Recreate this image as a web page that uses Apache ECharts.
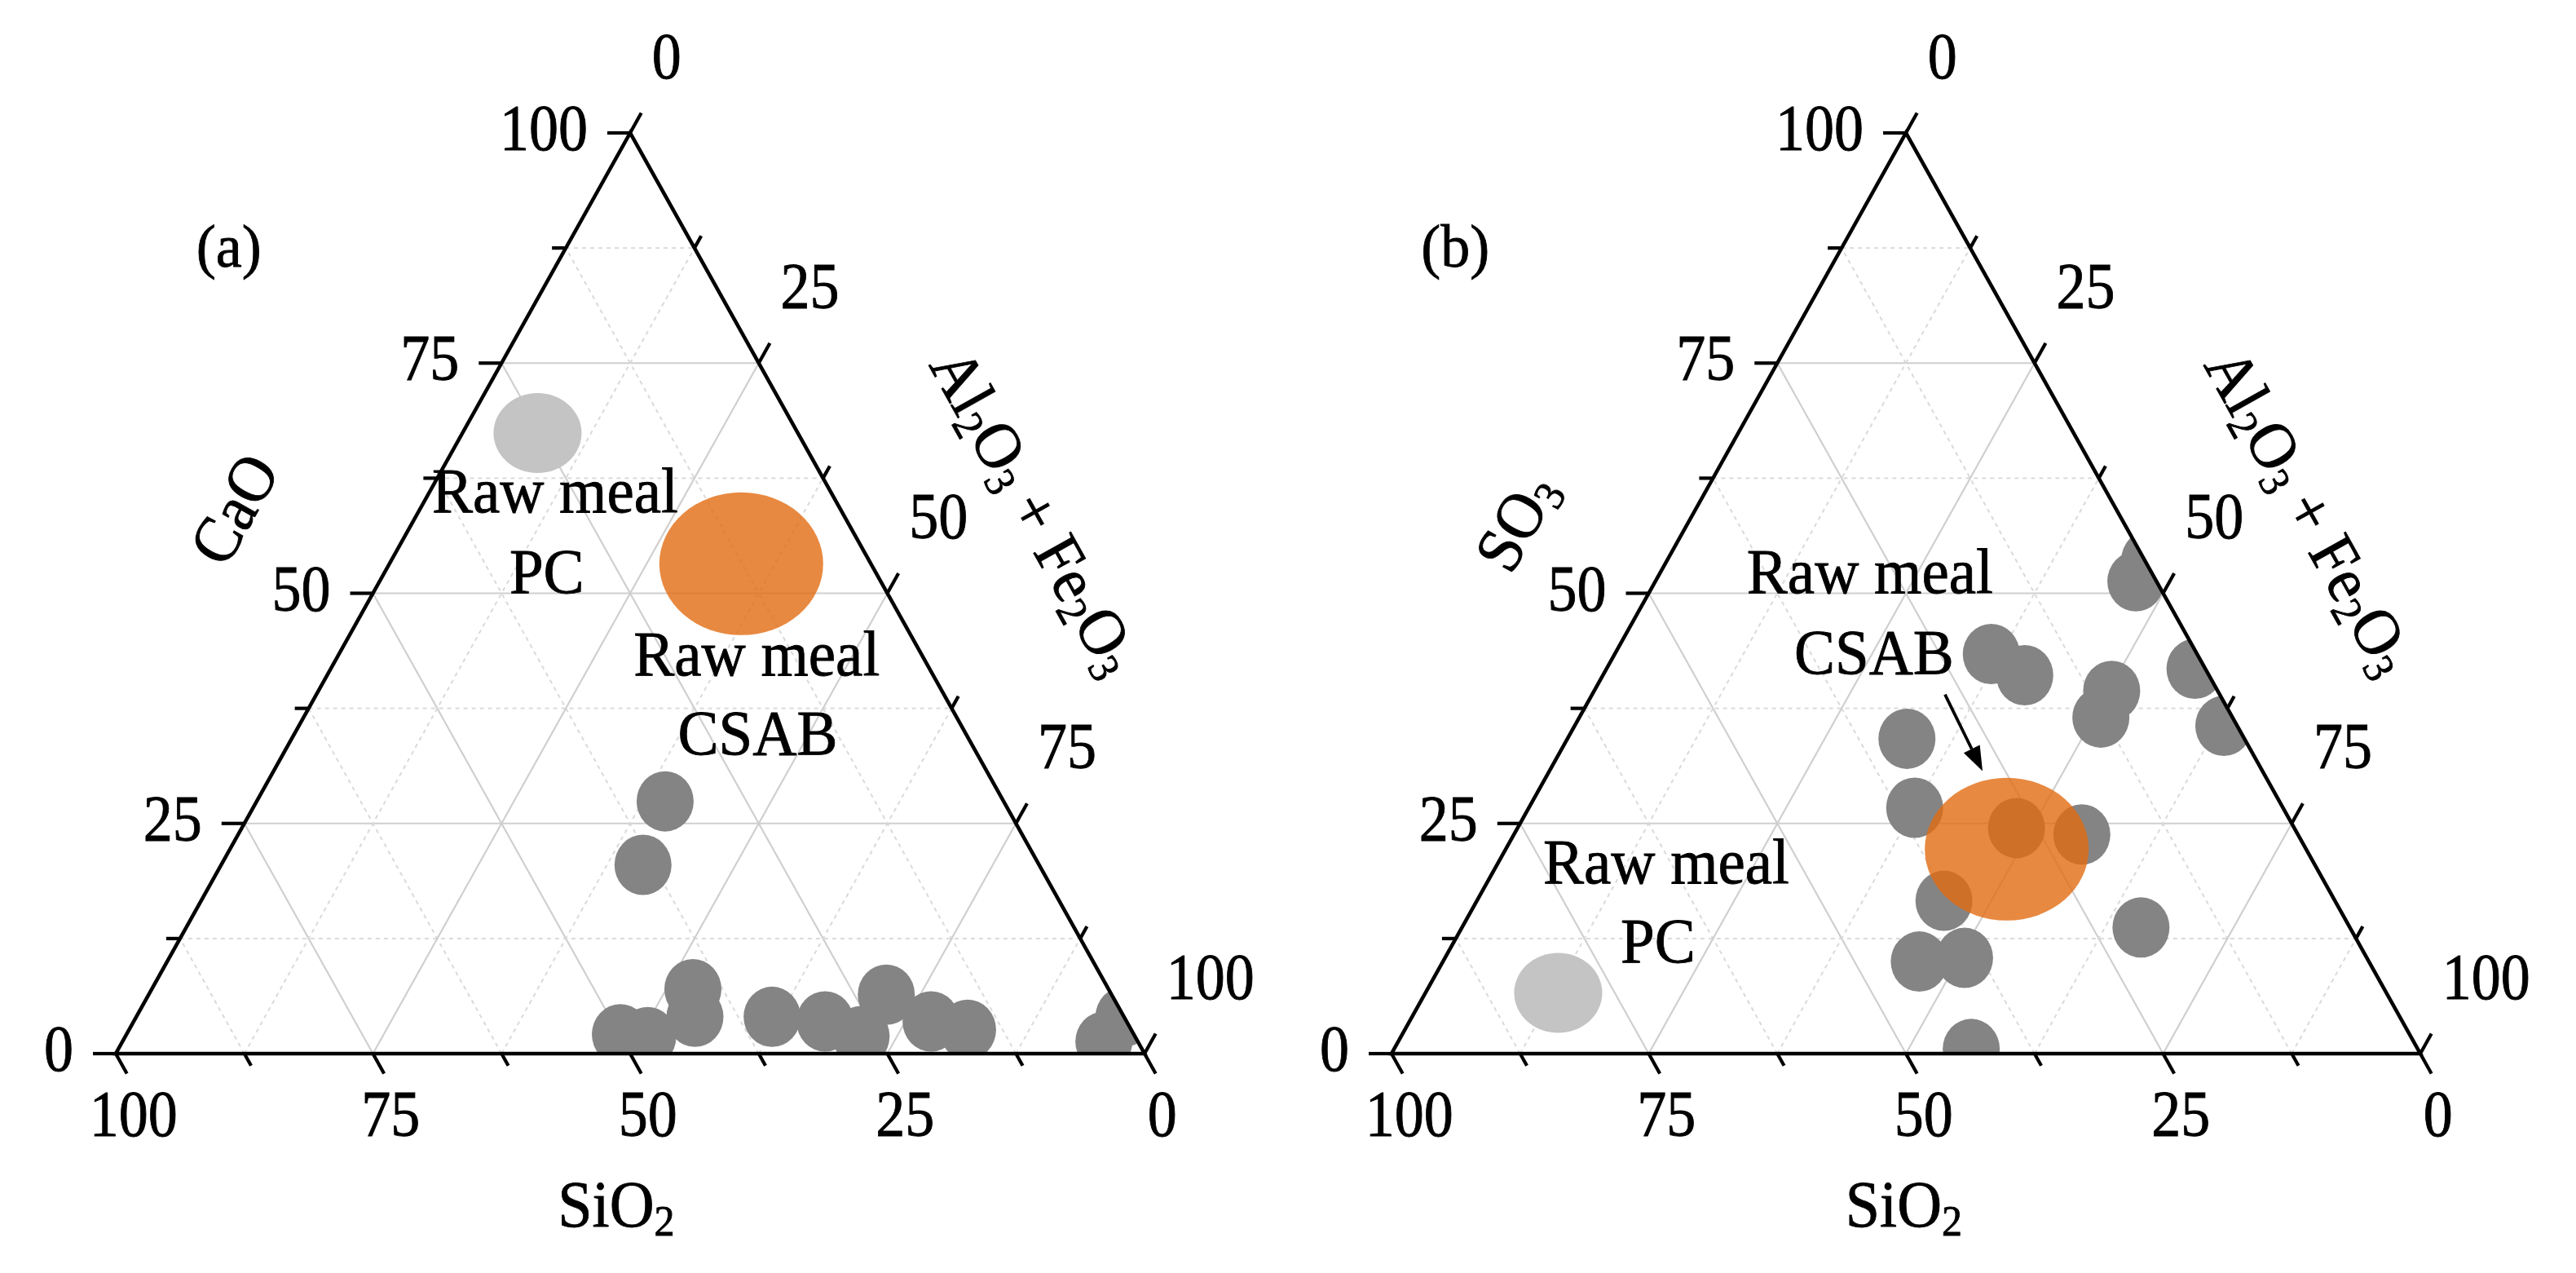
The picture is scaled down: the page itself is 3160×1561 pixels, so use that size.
<!DOCTYPE html>
<html>
<head>
<meta charset="utf-8">
<script src="https://cdn.jsdelivr.net/npm/echarts@6/dist/echarts.min.js"></script>
<style>
html,body{margin:0;padding:0;background:#fff;}
#chart{width:3160px;height:1561px;}
</style>
</head>
<body>
<div id="chart"></div>
<script>
// ------------------------------------------------------------------ data
// ternary ticks (same on the three sides of each triangle)
const tickValues = [0, 25, 50, 75, 100];
const tickLabels = ['0', '25', '50', '75', '100'];
const minorTickValues = [12.5, 37.5, 62.5, 87.5];

// axis titles  [apex component, SiO2, Al2O3 + Fe2O3]  (rich text for subscripts)
const axisTitlesA = ['{n|CaO}', '{n|SiO}{s|2}', '{n|Al}{s|2}{n|O}{s|3}{n| + Fe}{s|2}{n|O}{s|3}'];
const axisTitlesB = ['{n|SO}{s|3}', '{n|SiO}{s|2}', '{n|Al}{s|2}{n|O}{s|3}{n| + Fe}{s|2}{n|O}{s|3}'];

// compositions, wt.%:  [CaO, SiO2, Al2O3+Fe2O3]
const samplesA = [
  [27.4, 32.9, 39.7], [20.5, 38.5, 41.0], [7.0, 40.4, 52.6], [4.0, 41.7, 54.3],
  [2.1, 49.9, 48.0], [1.8, 47.4, 50.8], [4.0, 34.2, 61.8], [3.5, 29.3, 67.2],
  [1.9, 26.6, 71.5], [6.4, 21.9, 71.7], [3.5, 19.0, 77.5], [2.6, 15.9, 81.5],
  [1.3, 3.3, 95.4], [4.0, 0.0, 96.0]
];
const rawMealPC_A = [[67.4, 25.3, 7.3]];
const rawMealCSAB_A = [[53.2, 12.6, 34.2]];

// compositions, wt.%:  [SO3, SiO2, Al2O3+Fe2O3]
const samplesB = [
  [43.4, 20.0, 36.6], [41.1, 17.9, 41.0], [51.3, 2.0, 46.7], [53.6, -0.5, 46.9],
  [39.4, 10.3, 50.3], [36.5, 12.8, 50.7], [41.8, 1.0, 57.2], [35.6, 1.3, 63.1],
  [34.2, 32.8, 33.0], [26.7, 35.8, 37.5], [24.5, 27.0, 48.5], [23.8, 21.0, 55.2],
  [16.6, 38.0, 45.4], [10.0, 43.7, 46.3], [10.4, 39.1, 50.5], [13.7, 20.3, 66.0],
  [0.5, 43.4, 56.1]
];
const rawMealPC_B = [[6.6, 80.5, 12.9]];
const rawMealCSAB_B = [[22.2, 29.1, 48.7]];

const annotTextsA = ['(a)', 'Raw meal', 'PC', 'Raw meal', 'CSAB'];
const annotTextsB = ['(b)', 'Raw meal', 'CSAB', 'Raw meal', 'PC'];

// ------------------------------------------------------------------ layout / style
const FONT = '"Liberation Serif", "Times New Roman", serif';
const GRIDS = [
  {left: 142, top: 163, width: 1262, height: 1129},
  {left: 1707, top: 163, width: 1262, height: 1129}
];
const layoutA = {
  annot: [[11.0, 87.2], [42.7, 60.6], [41.9, 51.9], [62.3, 42.9], [62.4, 34.3]],
  titles: [[11.9, 58.9], [48.65, -16.9], [89.0, 58.6]],
  arrow: null
};
const layoutB = {
  annot: [[6.2, 87.2], [46.5, 51.9], [46.9, 43.05], [26.7, 20.3], [25.9, 11.7]],
  titles: [[12.5, 57.5], [49.8, -16.9], [88.9, 58.6]],
  arrow: [[53.8, 39.0], [57.45, 30.7]]
};

// ternary -> cartesian data coordinates (x along base 0..100, y = apex component 0..100)
function toXY(t) {
  const sum = t[0] + t[1] + t[2];
  const c = t[0] * 100 / sum, a = t[2] * 100 / sum;
  return [a + c / 2, c];
}

function unit(p, q) {
  const dx = q[0] - p[0], dy = q[1] - p[1];
  const l = Math.hypot(dx, dy);
  return [dx / l, dy / l];
}

const EDGE_ANGLE = Math.atan2(1129, 631); // slope of triangle side in pixels

// grid lines data: [family(0 apex,1 SiO2,2 AlFe), value, minor?]
const gridLineData = [];
[0, 1, 2].forEach(f => {
  tickValues.filter(v => v > 0 && v < 100).forEach(v => gridLineData.push([f, v, 0]));
  minorTickValues.forEach(v => gridLineData.push([f, v, 1]));
});

function gridLineRender(params, api) {
  const f = api.value(0), v = api.value(1), minor = api.value(2);
  let p1, p2;
  if (f === 0) { p1 = [v, 100 - v, 0]; p2 = [v, 0, 100 - v]; }
  else if (f === 1) { p1 = [0, v, 100 - v]; p2 = [100 - v, v, 0]; }
  else { p1 = [0, 100 - v, v]; p2 = [100 - v, 0, v]; }
  const a = api.coord(toXY(p1)), b = api.coord(toXY(p2));
  return {
    type: 'line',
    shape: {x1: a[0], y1: a[1], x2: b[0], y2: b[1]},
    style: minor
      ? {stroke: '#dadada', lineWidth: 2, lineDash: [5, 5]}
      : {stroke: '#cfcfcf', lineWidth: 2.2}
  };
}

const TEXT_STROKE = 0.8;
const richBase = {
  n: {fontSize: 76, fontFamily: FONT, fill: '#000', lineHeight: 84, stroke: '#000', lineWidth: TEXT_STROKE},
  s: {fontSize: 50, fontFamily: FONT, fill: '#000', lineHeight: 44, verticalAlign: 'bottom', stroke: '#000', lineWidth: TEXT_STROKE}
};

function textEl(str, x, y, opt) {
  opt = opt || {};
  const el = {
    type: 'text',
    x: x, y: y,
    rotation: opt.rotation || 0,
    scaleY: opt.scaleY || 1,
    style: {
      text: str,
      fontSize: opt.fontSize || 74,
      fontFamily: FONT,
      fill: '#000',
      stroke: '#000',
      lineWidth: TEXT_STROKE,
      align: opt.align || 'center',
      verticalAlign: opt.verticalAlign || 'middle'
    }
  };
  if (opt.rich) el.style.rich = opt.rich;
  return el;
}

function foregroundRender(titles, annotTexts, layout) {
  return function (params, api) {
    const P = t => api.coord(toXY(t));
    const Q = xy => api.coord(xy);
    const kids = [];
    // white masks: clip symbols to the triangle
    [
      [[50, 100], [100, 0], [106, 0], [106, 100]],
      [[-6, 0], [106, 0], [106, -6], [-6, -6]],
      [[50, 100], [0, 0], [-6, 0], [-6, 100]]
    ].forEach(poly => kids.push({
      type: 'polygon', shape: {points: poly.map(Q)}, style: {fill: '#fff', stroke: null}
    }));
    // frame
    kids.push({
      type: 'polygon',
      shape: {points: [P([100, 0, 0]), P([0, 100, 0]), P([0, 0, 100])]},
      style: {fill: 'none', stroke: '#000', lineWidth: 4.6, lineJoin: 'miter'}
    });
    const MAJ = 28, MIN = 17;
    const allTicks = tickValues.map(v => [v, 1]).concat(minorTickValues.map(v => [v, 0]));
    allTicks.forEach(([v, major]) => {
      const len = major ? MAJ : MIN;
      // apex component (left side)
      const bc = P([v, 100 - v, 0]);
      const dc = [-1, 0];
      // SiO2 (bottom side)
      const bs = P([0, v, 100 - v]);
      const ds = unit(bs, P([-10, v, 110 - v]));
      // Al2O3+Fe2O3 (right side)
      const ba = P([100 - v, 0, v]);
      const da = unit(ba, P([110 - v, -10, v]));
      [[bc, dc], [bs, ds], [ba, da]].forEach(([b, d]) => {
        kids.push({
          type: 'line',
          shape: {x1: b[0], y1: b[1], x2: b[0] + d[0] * len, y2: b[1] + d[1] * len},
          style: {stroke: '#000', lineWidth: 4.2}
        });
      });
      if (major) {
        const lab = tickLabels[tickValues.indexOf(v)];
        const ec = [bc[0] + dc[0] * len, bc[1] + dc[1] * len];
        const es = [bs[0] + ds[0] * len, bs[1] + ds[1] * len];
        const ea = [ba[0] + da[0] * len, ba[1] + da[1] * len];
        kids.push(textEl(lab, ec[0] - 24, ec[1], {align: 'right', fontSize: 72, scaleY: 1.12}));
        kids.push(textEl(lab, es[0] + 8, es[1] + 55, {align: 'center', fontSize: 72, scaleY: 1.12}));
        kids.push(textEl(lab, ea[0] + 13, ea[1] - 64, {align: 'left', fontSize: 72, scaleY: 1.12}));
      }
    });
    // axis titles
    const tp = layout.titles.map(Q);
    kids.push(textEl(titles[0], tp[0][0], tp[0][1], {rich: richBase, rotation: EDGE_ANGLE, scaleY: 1.06}));
    kids.push(textEl(titles[1], tp[1][0], tp[1][1], {rich: richBase, scaleY: 1.06}));
    kids.push(textEl(titles[2], tp[2][0], tp[2][1], {rich: richBase, rotation: -EDGE_ANGLE, scaleY: 1.06}));
    // annotations
    layout.annot.forEach((xy, i) => {
      const p = Q(xy);
      kids.push(textEl(annotTexts[i], p[0], p[1], {fontSize: i === 0 ? 72 : 75, scaleY: 1.04}));
    });
    // arrow
    if (layout.arrow) {
      const a = Q(layout.arrow[0]), b = Q(layout.arrow[1]);
      const d = unit(a, b), n = [-d[1], d[0]];
      const L = 30, W = 11;
      const base = [b[0] - d[0] * L, b[1] - d[1] * L];
      kids.push({type: 'line', shape: {x1: a[0], y1: a[1], x2: base[0], y2: base[1]},
        style: {stroke: '#000', lineWidth: 3.8}});
      kids.push({type: 'polygon', shape: {points: [b,
        [base[0] + n[0] * W, base[1] + n[1] * W], [base[0] - n[0] * W, base[1] - n[1] * W]]},
        style: {fill: '#000', stroke: null}});
    }
    return {type: 'group', children: kids};
  };
}

function panelSeries(idx, samples, pc, csab, titles, annotTexts, layout) {
  const common = {xAxisIndex: idx, yAxisIndex: idx, silent: true, animation: false};
  return [
    Object.assign({type: 'custom', coordinateSystem: 'cartesian2d', clip: false, z: 1,
      data: gridLineData, renderItem: gridLineRender}, common),
    Object.assign({type: 'scatter', z: 2, symbol: 'circle', symbolSize: [70, 74],
      itemStyle: {color: '#848484', opacity: 1}, data: samples.map(toXY), clip: false}, common),
    Object.assign({type: 'scatter', z: 2, symbol: 'circle', symbolSize: [108, 98],
      itemStyle: {color: '#c4c4c4', opacity: 1}, data: pc.map(toXY), clip: false}, common),
    Object.assign({type: 'scatter', z: 2, symbol: 'circle', symbolSize: [201, 175],
      itemStyle: {color: 'rgb(226,108,18)', opacity: 0.8}, data: csab.map(toXY), clip: false}, common),
    Object.assign({type: 'custom', coordinateSystem: 'cartesian2d', clip: false, z: 5,
      data: [[50, 50]], renderItem: foregroundRender(titles, annotTexts, layout)}, common)
  ];
}

const chart = echarts.init(document.getElementById('chart'), null, {renderer: 'canvas'});
const axis = {type: 'value', min: 0, max: 100, show: false};
chart.setOption({
  animation: false,
  backgroundColor: '#ffffff',
  grid: GRIDS,
  xAxis: [Object.assign({gridIndex: 0}, axis), Object.assign({gridIndex: 1}, axis)],
  yAxis: [Object.assign({gridIndex: 0}, axis), Object.assign({gridIndex: 1}, axis)],
  series: [].concat(
    panelSeries(0, samplesA, rawMealPC_A, rawMealCSAB_A, axisTitlesA, annotTextsA, layoutA),
    panelSeries(1, samplesB, rawMealPC_B, rawMealCSAB_B, axisTitlesB, annotTextsB, layoutB)
  )
});
</script>
</body>
</html>
